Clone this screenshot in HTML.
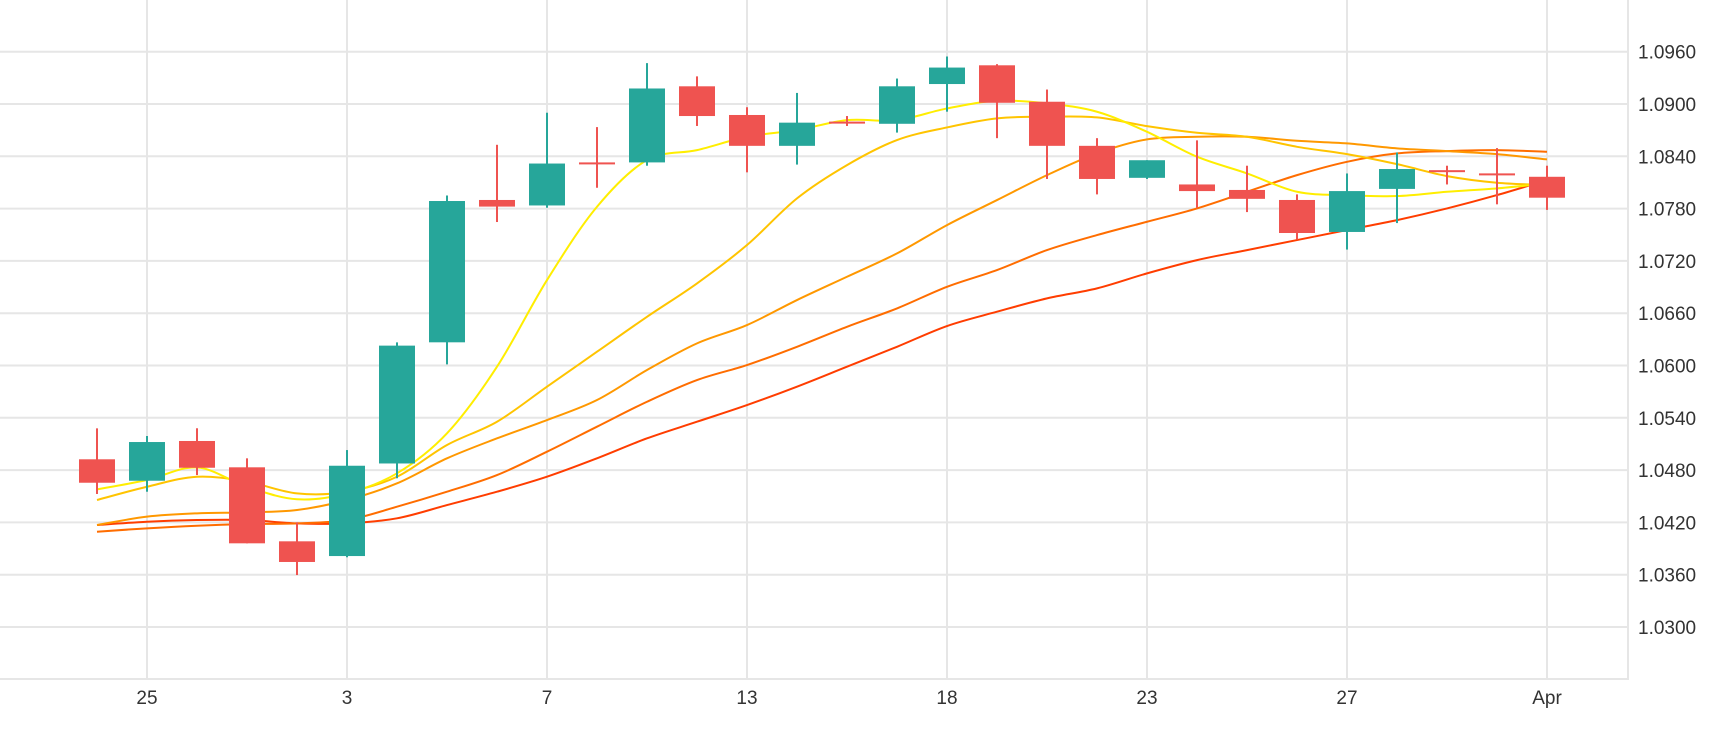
<!DOCTYPE html>
<html><head><meta charset="utf-8"><style>
html,body{margin:0;padding:0;background:#fff;}
svg{display:block;font-family:"Liberation Sans",sans-serif;}
</style></head><body>
<svg id="chart" width="1730" height="730" viewBox="0 0 1730 730" xmlns="http://www.w3.org/2000/svg">
<g id="grid"></g>
<g id="mas"></g>
<g id="candles"></g>
<g id="axes"></g>
</svg>
<script>
const opens  = [1.04924,1.04678,1.05134,1.04832,1.03983,1.03814,1.04876,1.06266,1.07899,1.07836,1.0833,1.0833,1.09203,1.08874,1.0852,1.08798,1.08773,1.09229,1.09444,1.09026,1.0852,1.08153,1.08077,1.08014,1.07899,1.07532,1.08026,1.08241,1.08204,1.08165];
const highs  = [1.05279,1.05191,1.0528,1.04935,1.0420,1.0503,1.06266,1.0795,1.08532,1.089,1.08735,1.09469,1.09317,1.08963,1.09127,1.08862,1.09292,1.09545,1.09457,1.09166,1.08608,1.08355,1.08583,1.08292,1.07963,1.08203,1.08444,1.08292,1.08494,1.08292];
const lows   = [1.04526,1.04552,1.04743,1.0396,1.03596,1.038,1.04706,1.06013,1.07646,1.0781,1.08039,1.08292,1.08748,1.08216,1.08305,1.08748,1.08672,1.08912,1.08608,1.0814,1.07963,1.0814,1.0781,1.0776,1.07444,1.0733,1.07634,1.08077,1.07849,1.07785];
const closes = [1.04655,1.05122,1.04827,1.0396,1.03746,1.0485,1.06228,1.07887,1.07823,1.08317,1.0832,1.09178,1.08862,1.0852,1.08786,1.0879,1.09203,1.09418,1.09014,1.0852,1.0814,1.08355,1.08001,1.07912,1.0752,1.08001,1.08254,1.08229,1.08191,1.07925];
const ma5  = [1.04579,1.04686,1.04831,1.04609,1.04465,1.04533,1.04763,1.05222,1.05986,1.0698,1.07821,1.08357,1.08471,1.08624,1.08701,1.08815,1.08815,1.08949,1.09037,1.09007,1.08911,1.08681,1.08395,1.08204,1.07993,1.07955,1.07944,1.07993,1.08032,1.08089];
const ma10 = [1.04457,1.04609,1.04724,1.04667,1.04533,1.04552,1.04724,1.05088,1.05355,1.05757,1.06158,1.06559,1.06942,1.07382,1.07917,1.08299,1.08586,1.08731,1.08835,1.08854,1.08846,1.08746,1.0867,1.08624,1.08509,1.08425,1.0831,1.08173,1.08097,1.0807];
const ma20 = [1.0417,1.04266,1.04304,1.04315,1.04342,1.04457,1.04648,1.04935,1.05164,1.05374,1.05604,1.05948,1.06254,1.06464,1.06751,1.07018,1.07286,1.07611,1.07898,1.08184,1.08433,1.08594,1.08624,1.08624,1.08578,1.08548,1.08491,1.0846,1.08425,1.08364];
const ma30 = [1.04093,1.04132,1.04162,1.04181,1.04189,1.04227,1.0438,1.04552,1.04743,1.05011,1.05298,1.05584,1.05833,1.06005,1.06215,1.06444,1.06655,1.06903,1.07095,1.07324,1.07496,1.07649,1.07802,1.07993,1.08184,1.08337,1.08433,1.0846,1.08471,1.08452];
const ma60 = [1.0417,1.04208,1.04227,1.04227,1.04189,1.04189,1.04247,1.04399,1.04552,1.04724,1.04935,1.05164,1.05355,1.05546,1.05757,1.05986,1.06215,1.06453,1.06617,1.0677,1.06885,1.07057,1.07209,1.07324,1.07439,1.07554,1.07668,1.07802,1.07955,1.08127];
const yTicks = [1.030,1.036,1.042,1.048,1.054,1.060,1.066,1.072,1.078,1.084,1.090,1.096];
const xTickIdx = [1,5,9,13,17,21,25,29];
const xTickLabels = ["25","3","7","13","18","23","27","Apr"];

const NS="http://www.w3.org/2000/svg";
const PLOT_R=1628, PLOT_B=679;
function xs(i){return 97+50*i;}
function ys(p){return 627-(p-1.03)/0.006*52.3;}
function mk(tag,attrs,parent){const e=document.createElementNS(NS,tag);for(const k in attrs)e.setAttribute(k,attrs[k]);parent.appendChild(e);return e;}

const grid=document.getElementById('grid');
yTicks.forEach(t=>{
  const l=mk('line',{x1:0,x2:PLOT_R,y1:ys(t),y2:ys(t),stroke:'#e6e6e6','stroke-width':2},grid);
  
  
});
xTickIdx.forEach(i=>{
  const l=mk('line',{x1:xs(i),x2:xs(i),y1:0,y2:PLOT_B,stroke:'#e6e6e6','stroke-width':2},grid);
  
  
});

function smoothPath(vals){
  const pts=vals.map((v,i)=>[xs(i),ys(v)]);
  let d='M'+pts[0][0]+','+pts[0][1];
  for(let i=0;i<pts.length-1;i++){
    const p0=pts[Math.max(0,i-1)],p1=pts[i],p2=pts[i+1],p3=pts[Math.min(pts.length-1,i+2)];
    const c1x=p1[0]+(p2[0]-p0[0])/6,c1y=p1[1]+(p2[1]-p0[1])/6;
    const c2x=p2[0]-(p3[0]-p1[0])/6,c2y=p2[1]-(p3[1]-p1[1])/6;
    d+=' C'+c1x+','+c1y+' '+c2x+','+c2y+' '+p2[0]+','+p2[1];
  }
  return d;
}
const mas=document.getElementById('mas');
[[ma60,'#ff3d00','ma60-line'],[ma30,'#ff6d00','ma30-line'],[ma20,'#ff9800','ma20-line'],[ma10,'#ffc400','ma10-line'],[ma5,'#ffee00','ma5-line']].forEach(s=>{
  const p=mk('path',{d:smoothPath(s[0]),fill:'none',stroke:s[1],'stroke-width':2},mas);
  
  
});

const cg=document.getElementById('candles');
opens.forEach((o,i)=>{
  const c=closes[i],up=c>=o,col=up?'#26a69a':'#ef5350';
  const g=mk('g',{},cg);
  
  
  mk('line',{x1:xs(i),x2:xs(i),y1:ys(highs[i]),y2:ys(lows[i]),stroke:col,'stroke-width':2},g);
  const top=ys(Math.max(o,c)),bot=ys(Math.min(o,c));
  mk('rect',{x:xs(i)-18,y:top,width:36,height:Math.max(2,bot-top),fill:col},g);
});

const ax=document.getElementById('axes');
const b=mk('polyline',{points:`0,${PLOT_B} ${PLOT_R},${PLOT_B} ${PLOT_R},0`,fill:'none',stroke:'#e6e6e6','stroke-width':2},ax);


yTicks.forEach(t=>{
  const tx=mk('text',{x:1638,y:ys(t)+7,'font-size':19,fill:'#333'},ax);
  tx.textContent=t.toFixed(4);
  
  
});
xTickIdx.forEach((i,k)=>{
  const tx=mk('text',{x:xs(i),y:704,'font-size':19,fill:'#333','text-anchor':'middle'},ax);
  tx.textContent=xTickLabels[k];
  
  
});
</script>
</body></html>
